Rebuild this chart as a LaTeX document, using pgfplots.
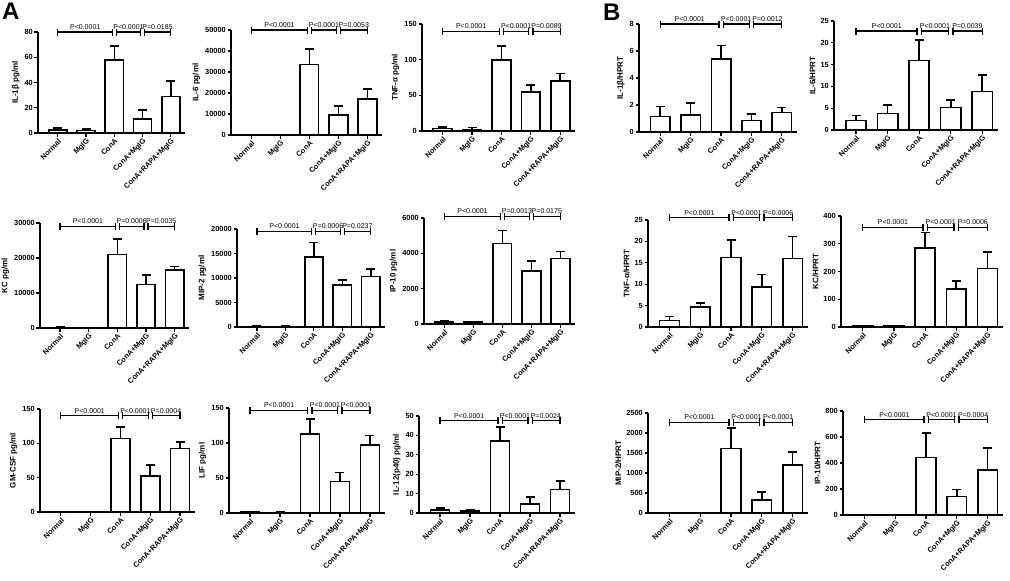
\documentclass[border=0pt]{standalone}
\usepackage{fontspec}
\setmainfont{Liberation Sans}
\usepackage{pgfplots}
\usepackage{pgfplotstable}
\pgfplotsset{compat=1.18}

% columns: x = group index, y = mean, e = upper error
\pgfplotstableread{
x y e
0 2.2 2.0
1 2.0 1.0
2 57.7 11.3
3 11.3 6.7
4 28.9 12.3
}\tA
\pgfplotstableread{
x y e
0 0 0
1 0 0
2 33600 7400
3 9500 4300
4 17100 4800
}\tB
\pgfplotstableread{
x y e
0 3.3 2.3
1 2.3 2.4
2 99.5 19.5
3 55 9.5
4 70.5 10
}\tC
\pgfplotstableread{
x y e
0 1.16 0.74
1 1.28 0.86
2 5.4 1.0
3 0.86 0.49
4 1.45 0.37
}\tD
\pgfplotstableread{
x y e
0 2.2 1.1
1 3.8 1.9
2 15.9 4.7
3 5.2 1.7
4 8.8 3.8
}\tE
\pgfplotstableread{
x y e
0 150 100
1 100 50
2 20950 4450
3 12400 2800
4 16570 1030
}\tF
\pgfplotstableread{
x y e
0 100 50
1 100 50
2 14300 2960
3 8560 1030
4 10270 1510
}\tG
\pgfplotstableread{
x y e
0 130 60
1 110 40
2 4560 740
3 3000 580
4 3700 410
}\tH
\pgfplotstableread{
x y e
0 1.56 0.94
1 4.7 0.9
2 16.25 4.05
3 9.4 2.9
4 16.0 5.1
}\tI
\pgfplotstableread{
x y e
0 3 2
1 3 2
2 285 55
3 136 30
4 211 60
}\tJ
\pgfplotstableread{
x y e
0 0 0
1 0 0
2 107 17
3 52.7 16
4 92.4 9.2
}\tK
\pgfplotstableread{
x y e
0 1.5 0.7
1 1.0 0.6
2 112.9 21.1
3 45 13
4 97 14
}\tL
\pgfplotstableread{
x y e
0 1.6 0.9
1 1.1 0.5
2 37 7.2
3 4.7 3.6
4 12.1 4.4
}\tM
\pgfplotstableread{
x y e
0 2 1
1 5 3
2 1615 508
3 330 193
4 1200 323
}\tN
\pgfplotstableread{
x y e
0 2 1
1 2 1
2 443 186
3 141 55
4 347 169
}\tO

\pgfplotsset{
  panel/.style={
    scale only axis, anchor=south west, clip=false,
    axis x line*=bottom, axis y line*=left,
    axis line style={line width=1.4pt, black},
    xmin=-0.7, xmax=4.5, ymin=0,
    xtick={0,1,2,3,4},
    xticklabels={Normal,MgIG,ConA,ConA+MgIG,ConA+RAPA+MgIG},
    xticklabel style={rotate=45, anchor=north east, font=\bfseries\fontsize{7.4}{8}\selectfont, inner sep=1pt},
    yticklabel style={font=\bfseries\fontsize{7.4}{8}\selectfont, inner sep=1.5pt},
    ylabel style={font=\bfseries\fontsize{8}{9}\selectfont},
    tick align=outside, major tick length=3.5pt,
    every tick/.style={line width=1.2pt, black},
    scaled y ticks=false,
    /pgf/number format/fixed,
    /pgf/number format/1000 sep={},
    /pgf/number format/assume math mode=true,
  },
  barplot/.style={
    ybar, bar width=0.64, fill=white, draw=black, line width=1.6pt,
    error bars/.cd, y dir=plus, y explicit,
    error bar style={line width=1.6pt, black},
    error mark options={rotate=90, mark size=4.5pt, line width=1.6pt, black},
  },
}
\tikzset{ptxt/.style={anchor=south, font=\fontsize{7}{8}\selectfont, inner sep=0pt, yshift=2.5pt}}

\newcommand{\brk}[4]{%
  \draw[line width=1.2pt] (axis cs:0,#1) -- (axis cs:1.93,#1);
  \draw[line width=1.2pt] (axis cs:2.07,#1) -- (axis cs:2.93,#1);
  \draw[line width=1.2pt] (axis cs:3.07,#1) -- (axis cs:4,#1);
  \draw[line width=1.2pt] (axis cs:0,#1) ++(0pt,-3.5pt) -- ++(0pt,7pt);
  \draw[line width=1.2pt] (axis cs:1.93,#1) ++(0pt,-3.5pt) -- ++(0pt,7pt);
  \draw[line width=1.2pt] (axis cs:2.07,#1) ++(0pt,-3.5pt) -- ++(0pt,7pt);
  \draw[line width=1.2pt] (axis cs:2.93,#1) ++(0pt,-3.5pt) -- ++(0pt,7pt);
  \draw[line width=1.2pt] (axis cs:3.07,#1) ++(0pt,-3.5pt) -- ++(0pt,7pt);
  \draw[line width=1.2pt] (axis cs:4,#1) ++(0pt,-3.5pt) -- ++(0pt,7pt);
  \node[ptxt] at (axis cs:0.97,#1) {#2};
  \node[ptxt] at (axis cs:2.5,#1) {#3};
  \node[ptxt] at (axis cs:3.53,#1) {#4};
}

\begin{document}
\begin{tikzpicture}
\useasboundingbox (0pt,0pt) rectangle (1010pt,-581pt);
\node[anchor=north west, inner sep=0pt, font=\bfseries\fontsize{24}{24}\selectfont] at (2pt,-3pt) {A};
\node[anchor=north west, inner sep=0pt, font=\bfseries\fontsize{24}{24}\selectfont] at (603pt,-4pt) {B};

% ---- Row 1 ----
\begin{axis}[panel, at={(38pt,-133pt)}, width=147pt, height=101pt, ymax=80, ytick={0,20,40,60,80}, ylabel={IL-1β pg/ml}]
\addplot[barplot] table[x=x,y=y,y error=e] {\tA};
\brk{80}{P<0.0001}{P<0.0001}{P=0.0185}
\end{axis}

\begin{axis}[panel, at={(231pt,-135pt)}, width=151pt, height=105pt, ymax=50000, ytick={0,10000,20000,30000,40000,50000}, ylabel={IL-6 pg/ml}]
\addplot[barplot] table[x=x,y=y,y error=e] {\tB};
\brk{50000}{P<0.0001}{P<0.0001}{P=0.0053}
\end{axis}

\begin{axis}[panel, at={(422pt,-131pt)}, width=153pt, height=107pt, ymax=150, ytick={0,50,100,150}, ylabel={TNF-α pg/ml}]
\addplot[barplot] table[x=x,y=y,y error=e] {\tC};
\brk{140}{P<0.0001}{P<0.0001}{P=0.0089}
\end{axis}

\begin{axis}[panel, at={(639pt,-132pt)}, width=158pt, height=108pt, ymax=8, ytick={0,2,4,6,8}, ylabel={IL-1β/HPRT}]
\addplot[barplot] table[x=x,y=y,y error=e] {\tD};
\brk{8}{P<0.0001}{P<0.0001}{P=0.0012}
\end{axis}

\begin{axis}[panel, at={(834pt,-130pt)}, width=164pt, height=109pt, ymax=25, ytick={0,5,10,15,20,25}, ylabel={IL-6/HPRT}]
\addplot[barplot] table[x=x,y=y,y error=e] {\tE};
\brk{22.7}{P<0.0001}{P<0.0001}{P=0.0039}
\end{axis}

% ---- Row 2 ----
\begin{axis}[panel, at={(40pt,-328pt)}, width=149pt, height=105pt, ymax=30000, ytick={0,10000,20000,30000}, ylabel={KC pg/ml}]
\addplot[barplot] table[x=x,y=y,y error=e] {\tF};
\brk{29000}{P<0.0001}{P=0.0006}{P=0.0035}
\end{axis}

\begin{axis}[panel, at={(237pt,-327pt)}, width=148pt, height=98pt, ymax=20000, ytick={0,5000,10000,15000,20000}, ylabel={MIP-2 pg/ml}]
\addplot[barplot] table[x=x,y=y,y error=e] {\tG};
\brk{19500}{P<0.0001}{P=0.0006}{P=0.0237}
\end{axis}

\begin{axis}[panel, at={(424pt,-324pt)}, width=151pt, height=106pt, ymax=6000, ytick={0,2000,4000,6000}, ylabel={IP-10 pg/ml}]
\addplot[barplot] table[x=x,y=y,y error=e] {\tH};
\brk{6100}{P<0.0001}{P=0.0013}{P=0.0175}
\end{axis}

\begin{axis}[panel, at={(648pt,-327pt)}, width=160pt, height=107pt, ymax=25, ytick={0,5,10,15,20,25}, ylabel={TNF-α/HPRT}]
\addplot[barplot] table[x=x,y=y,y error=e] {\tI};
\brk{25.5}{P<0.0001}{P<0.0001}{P=0.0006}
\end{axis}

\begin{axis}[panel, at={(841pt,-327pt)}, width=162pt, height=111pt, ymax=400, ytick={0,100,200,300,400}, ylabel={KC/HPRT}]
\addplot[barplot] table[x=x,y=y,y error=e] {\tJ};
\brk{360}{P<0.0001}{P<0.0001}{P=0.0006}
\end{axis}

% ---- Row 3 ----
\begin{axis}[panel, at={(40pt,-512pt)}, width=155pt, height=103pt, ymax=150, ytick={0,50,100,150}, ylabel={GM-CSF pg/ml}]
\addplot[barplot] table[x=x,y=y,y error=e] {\tK};
\brk{140}{P<0.0001}{P<0.0001}{P=0.0004}
\end{axis}

\begin{axis}[panel, at={(229pt,-513pt)}, width=156pt, height=105pt, ymax=150, ytick={0,50,100,150}, ylabel={LIF pg/ml}]
\addplot[barplot] table[x=x,y=y,y error=e] {\tL};
\brk{147}{P<0.0001}{P<0.0001}{P<0.0001}
\end{axis}

\begin{axis}[panel, at={(419pt,-513pt)}, width=156pt, height=97pt, ymax=50, ytick={0,10,20,30,40,50}, ylabel={IL-12(p40) pg/ml}]
\addplot[barplot] table[x=x,y=y,y error=e] {\tM};
\brk{47.5}{P<0.0001}{P<0.0001}{P=0.0024}
\end{axis}

\begin{axis}[panel, at={(648pt,-513pt)}, width=160pt, height=100pt, ymax=2500, ytick={0,500,1000,1500,2000,2500}, ylabel={MIP-2/HPRT}]
\addplot[barplot] table[x=x,y=y,y error=e] {\tN};
\brk{2270}{P<0.0001}{P<0.0001}{P<0.0001}
\end{axis}

\begin{axis}[panel, at={(843pt,-515pt)}, width=160pt, height=104pt, ymax=800, ytick={0,200,400,600,800}, ylabel={IP-10/HPRT}]
\addplot[barplot] table[x=x,y=y,y error=e] {\tO};
\brk{732}{P<0.0001}{P<0.0001}{P=0.0004}
\end{axis}
\end{tikzpicture}
\end{document}
